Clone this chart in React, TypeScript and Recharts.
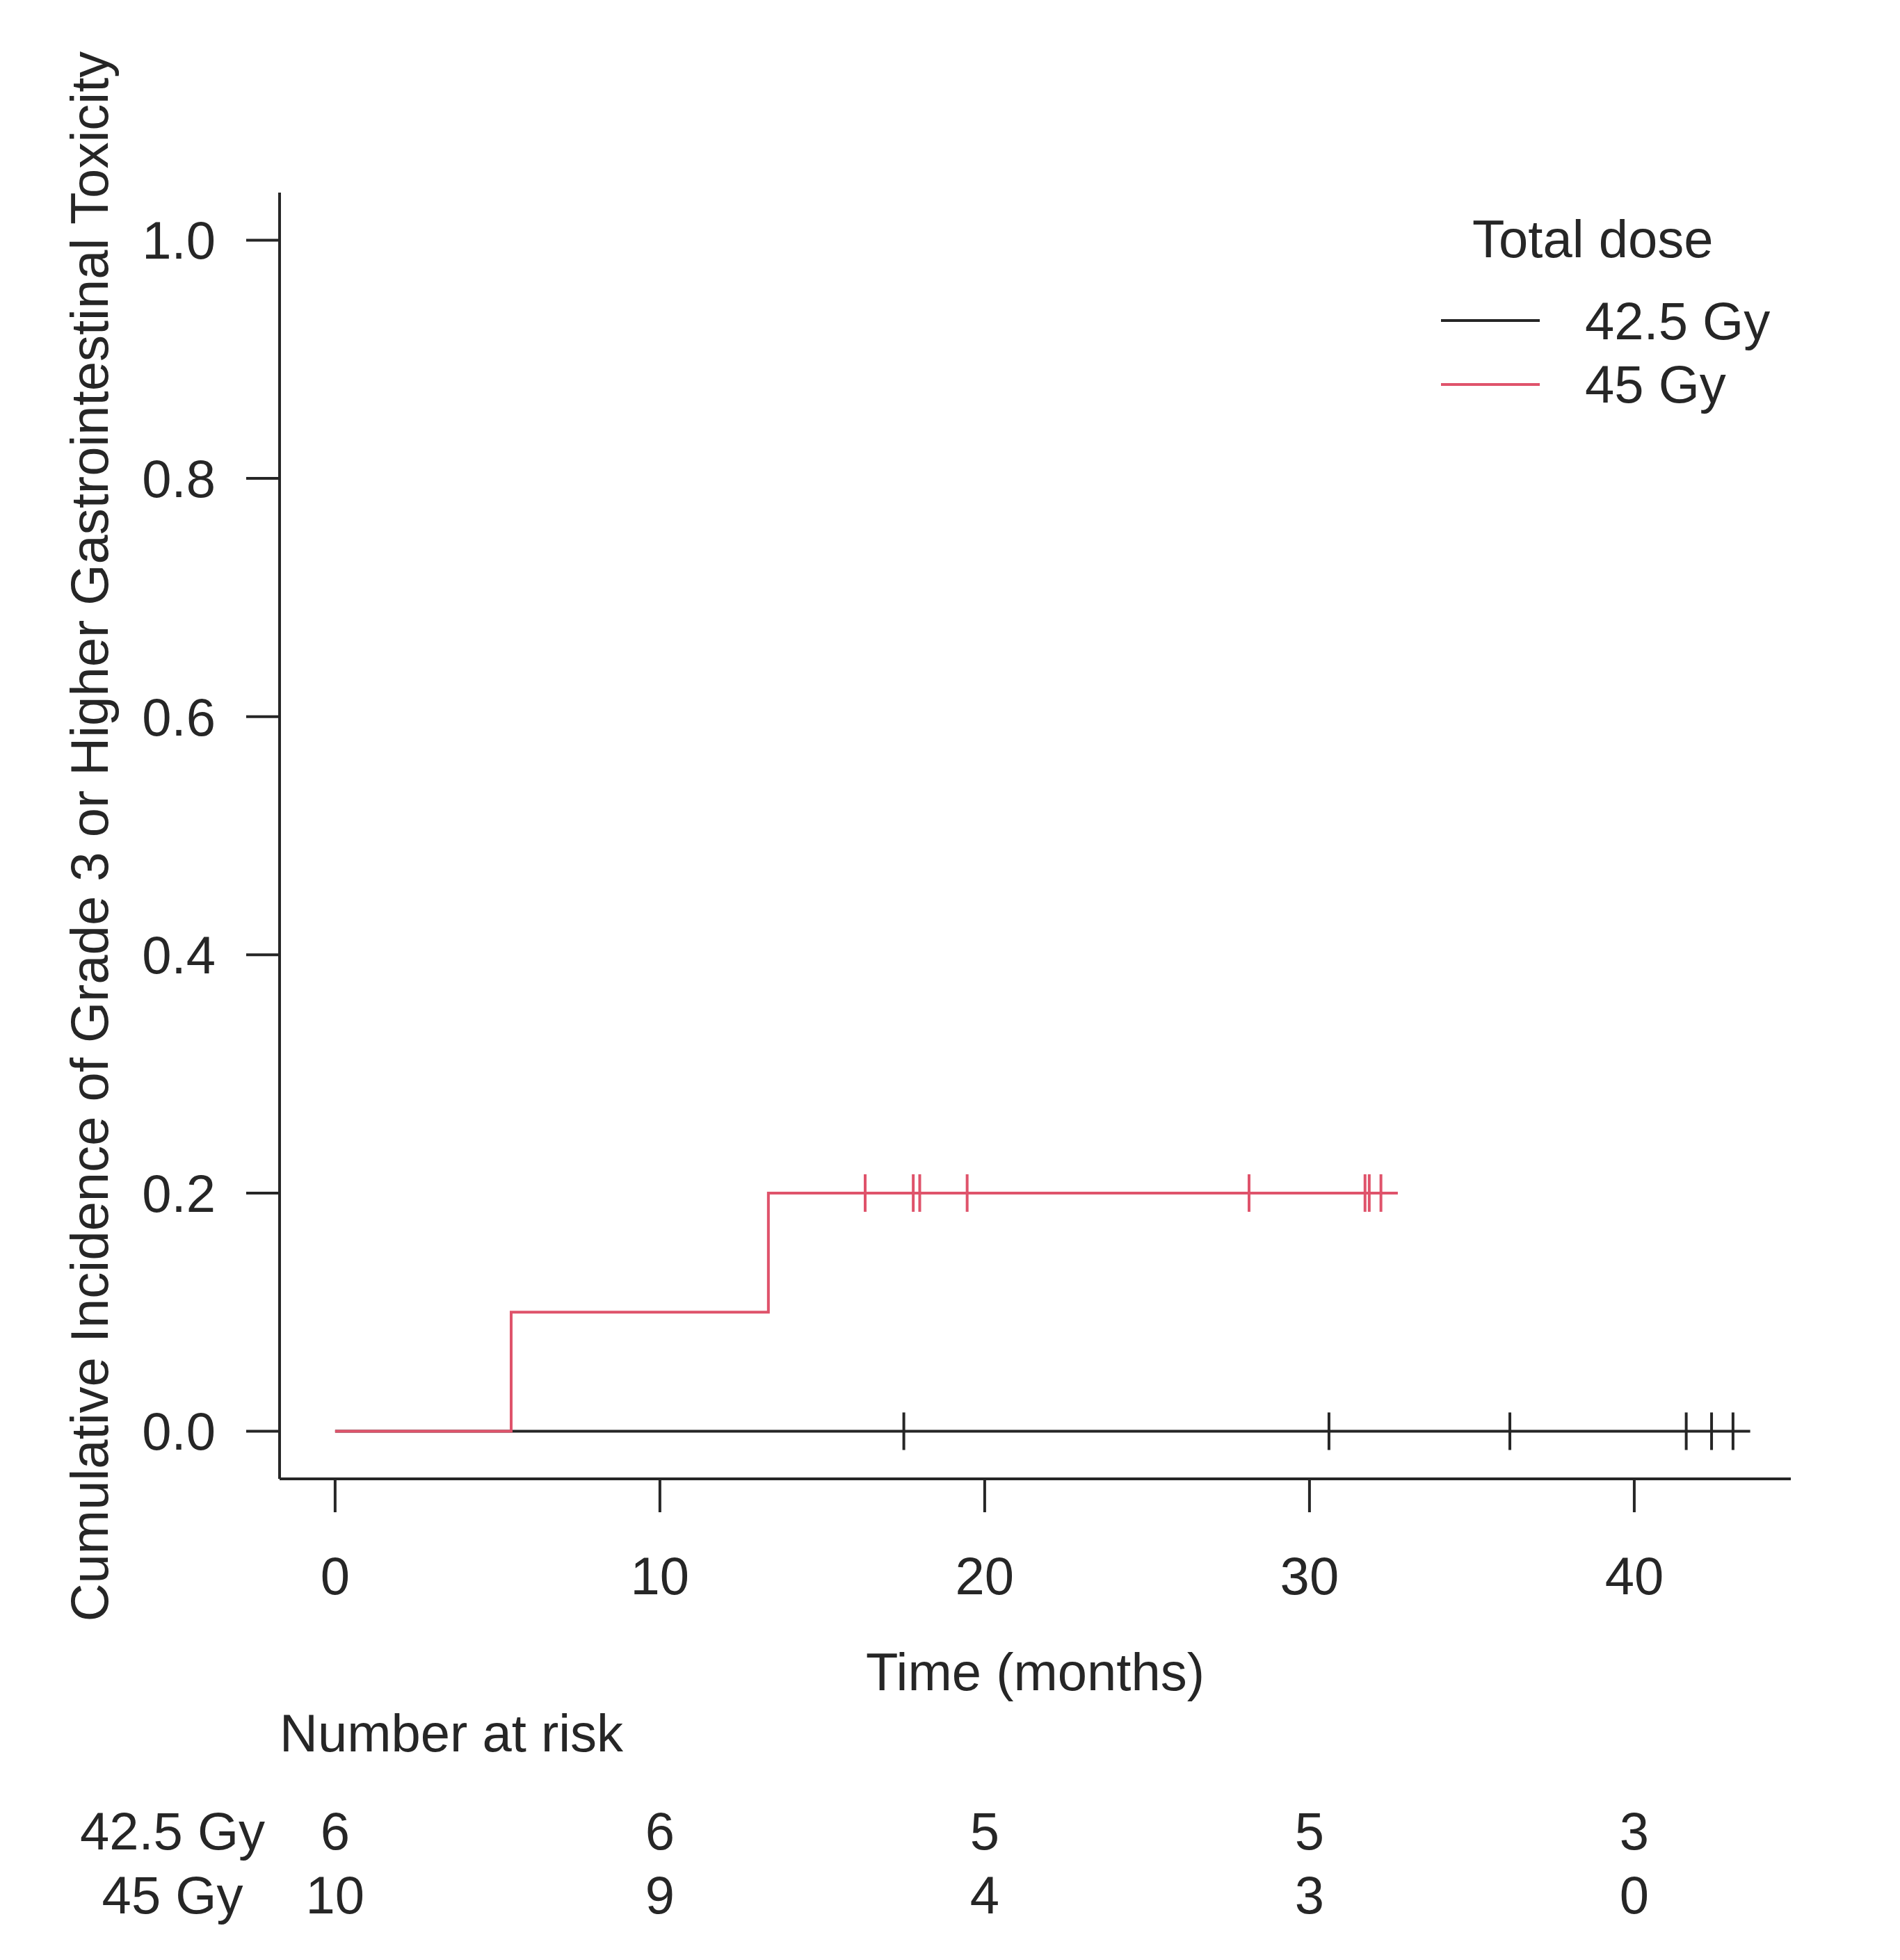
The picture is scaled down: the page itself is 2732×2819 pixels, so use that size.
import React from 'react';
import { ComposedChart, Line, Scatter, XAxis, YAxis, Legend, Customized } from 'recharts';

// time points of the risk table and the numbers at risk
const riskTimes = [0, 10, 20, 30, 40];
const riskLow = [6, 6, 5, 5, 3];
const riskHigh = [10, 9, 4, 3, 0];

const yTicks = [0, 0.2, 0.4, 0.6, 0.8, 1.0];

// cumulative incidence step curves
const curveLow = [
    { t: 0, y: 0 },
    { t: 43.57, y: 0 },
];
const curveHigh = [
    { t: 0, y: 0 },
    { t: 5.42, y: 0.1 },
    { t: 13.34, y: 0.2 },
    { t: 32.72, y: 0.2 },
];

// censoring times
const censorLow = [17.51, 30.6, 36.17, 41.6, 42.38, 43.04];
const censorHigh = [16.32, 17.8, 18.0, 19.46, 28.14, 31.71, 31.84, 32.2];

const groups = ['42.5 Gy', '45 Gy'];
const colors = ['#262626', '#DF536B'];

const FONT = '"Liberation Sans", Arial, Helvetica, sans-serif';
const FS = 76;
const INK = '#262626';

const censorPointsLow = censorLow.map((t) => ({ t, y: 0 }));
const censorPointsHigh = censorHigh.map((t) => ({ t, y: 0.2 }));

const CensorMark = (props: any) => {
    const { cx, cy, fill } = props;
    if (cx == null || cy == null) return null;
    return <line x1={cx} x2={cx} y1={cy - 27} y2={cy + 27} stroke={fill} strokeWidth={4} />;
};

const RiskTick = (props: any) => {
    const { x, y, payload } = props;
    const i = riskTimes.indexOf(payload.value);
    return (
        <g fontFamily={FONT} fontSize={FS} fill={INK}>
            <text x={x} y={y + 55} textAnchor="middle" fill={INK}>{payload.value}</text>
            <text x={x} y={y + 422} textAnchor="middle" fill={INK}>{riskLow[i]}</text>
            <text x={x} y={y + 514} textAnchor="middle" fill={INK}>{riskHigh[i]}</text>
        </g>
    );
};

const XTitle = (props: any) => {
    const { viewBox } = props;
    if (!viewBox) return null;
    return (
        <text x={viewBox.x + viewBox.width / 2} y={viewBox.y + 304} textAnchor="middle"
            fontFamily={FONT} fontSize={FS} fill={INK}>
            Time (months)
        </text>
    );
};

const YTitle = (props: any) => {
    const { viewBox } = props;
    if (!viewBox) return null;
    const cy = viewBox.y + viewBox.height / 2;
    return (
        <text transform={`translate(${viewBox.x},${cy + 1}) rotate(-90)`} textAnchor="middle"
            fontFamily={FONT} fontSize={FS} fill={INK}>
            Cumulative Incidence of Grade 3 or Higher Gastrointestinal Toxicity
        </text>
    );
};

const RiskLabels = () => (
    <g fontFamily={FONT} fontSize={FS} fill={INK}>
        <text x={402} y={2519} fill={INK}>Number at risk</text>
        <text x={248} y={2660} textAnchor="middle" fill={INK}>{groups[0]}</text>
        <text x={248} y={2752} textAnchor="middle" fill={INK}>{groups[1]}</text>
    </g>
);

const LegendBox = () => (
    <svg width={560} height={340} style={{ overflow: 'visible' }}>
        <g fontFamily={FONT} fontSize={FS} fill={INK}>
            <text x={77} y={90} fill={INK}>Total dose</text>
            {groups.map((g, i) => (
                <g key={g}>
                    <line x1={32} x2={174} y1={181 + i * 92} y2={181 + i * 92} stroke={colors[i]} strokeWidth={4} />
                    <text x={239} y={208 + i * 91} fill={INK}>{g}</text>
                </g>
            ))}
        </g>
    </svg>
);

export default function App() {
    return (
        <div style={{ position: 'absolute', left: 0, top: 0, width: 2732, height: 2819, background: '#fff' }}>
            <ComposedChart
                width={2732}
                height={2819}
                margin={{ top: 277, right: 157, bottom: 402, left: 155 }}
            >
                <XAxis
                    type="number"
                    dataKey="t"
                    domain={[-1.71, 44.82]}
                    allowDataOverflow
                    ticks={riskTimes}
                    tickSize={48}
                    tickMargin={63}
                    height={290}
                    axisLine={{ stroke: INK, strokeWidth: 4 }}
                    tickLine={{ stroke: INK, strokeWidth: 4 }}
                    tick={<RiskTick />}
                    label={<XTitle />}
                />
                <YAxis
                    type="number"
                    dataKey="y"
                    domain={[-0.04, 1.04]}
                    allowDataOverflow
                    ticks={yTicks}
                    tickFormatter={(v: number) => v.toFixed(1)}
                    tickSize={48}
                    tickMargin={44}
                    width={247}
                    axisLine={{ stroke: INK, strokeWidth: 4 }}
                    tickLine={{ stroke: INK, strokeWidth: 4 }}
                    tick={{ fill: INK, fontSize: FS, fontFamily: FONT }}
                    label={<YTitle />}
                />
                <Line data={curveLow} dataKey="y" type="stepAfter" stroke={colors[0]} strokeWidth={4}
                    dot={false} activeDot={false} isAnimationActive={false} name={groups[0]} />
                <Line data={curveHigh} dataKey="y" type="stepAfter" stroke={colors[1]} strokeWidth={4}
                    dot={false} activeDot={false} isAnimationActive={false} name={groups[1]} />
                <Scatter data={censorPointsLow} dataKey="y" fill={colors[0]} shape={<CensorMark />}
                    isAnimationActive={false} />
                <Scatter data={censorPointsHigh} dataKey="y" fill={colors[1]} shape={<CensorMark />}
                    isAnimationActive={false} />
                <Legend
                    layout="vertical"
                    align="center"
                    verticalAlign="middle"
                    wrapperStyle={{ left: 2040, top: 280, width: 560, height: 340 }}
                    content={() => <LegendBox />}
                />
                <Customized component={<RiskLabels />} />
            </ComposedChart>
        </div>
    );
}
